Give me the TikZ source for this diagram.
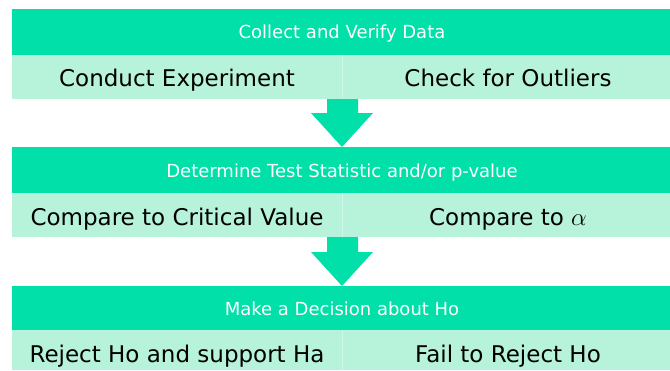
\documentclass[tikz,border=0pt]{standalone}
\usepackage{fontspec}
\setmainfont{DejaVu Sans}
\usetikzlibrary{calc}
\definecolor{darkg}{RGB}{0,224,168}
\definecolor{lightg}{RGB}{183,242,219}
\definecolor{divg}{RGB}{205,248,232}
\begin{document}
\begin{tikzpicture}[x=1pt,y=-1pt,
  hdr/.style={fill=darkg,draw=none},
  sub/.style={fill=lightg,draw=none},
  htext/.style={text=white,font=\fontsize{18}{22}\selectfont,inner sep=0pt,anchor=base},
  stext/.style={text=black,font=\fontsize{23}{27}\selectfont,inner sep=0pt,anchor=base},
  arr/.style={fill=darkg,draw=none}]
\useasboundingbox (0,0) rectangle (670,370);
\fill[white] (0,0) rectangle (670,370);
% bar 1
\fill[hdr] (12,9) rectangle (670,55);
\fill[sub] (12,55) rectangle (670,99);
\draw[divg,line width=1pt] (342,55) -- (342,99);
\node[htext] (h1) at (342,38) {Collect and Verify Data};
\node[stext] (s1a) at (177,86) {Conduct Experiment};
\node[stext] (s1b) at (508,86) {Check for Outliers};
% arrow 1
\fill[arr] (327,99) -- (358,99) -- (358,113) -- (373,113) -- (342,147) -- (311,113) -- (327,113) -- cycle;
% bar 2
\fill[hdr] (12,147) rectangle (670,193);
\fill[sub] (12,193) rectangle (670,237);
\draw[divg,line width=1pt] (342,193) -- (342,237);
\node[htext] (h2) at (342,177) {Determine Test Statistic and/or p-value};
\node[stext] (s2a) at (177,225) {Compare to Critical Value};
\node[stext] (s2b) at (508,225) {Compare to $\alpha$};
% arrow 2
\fill[arr] (327,237) -- (358,237) -- (358,252) -- (373,252) -- (342,286) -- (311,252) -- (327,252) -- cycle;
% bar 3
\fill[hdr] (12,286) rectangle (670,330);
\fill[sub] (12,330) rectangle (670,370);
\draw[divg,line width=1pt] (342,330) -- (342,370);
\node[htext] (h3) at (342,315) {Make a Decision about Ho};
\node[stext] (s3a) at (177,362) {Reject Ho and support Ha};
\node[stext] (s3b) at (508,362) {Fail to Reject Ho};
\end{tikzpicture}
\end{document}
